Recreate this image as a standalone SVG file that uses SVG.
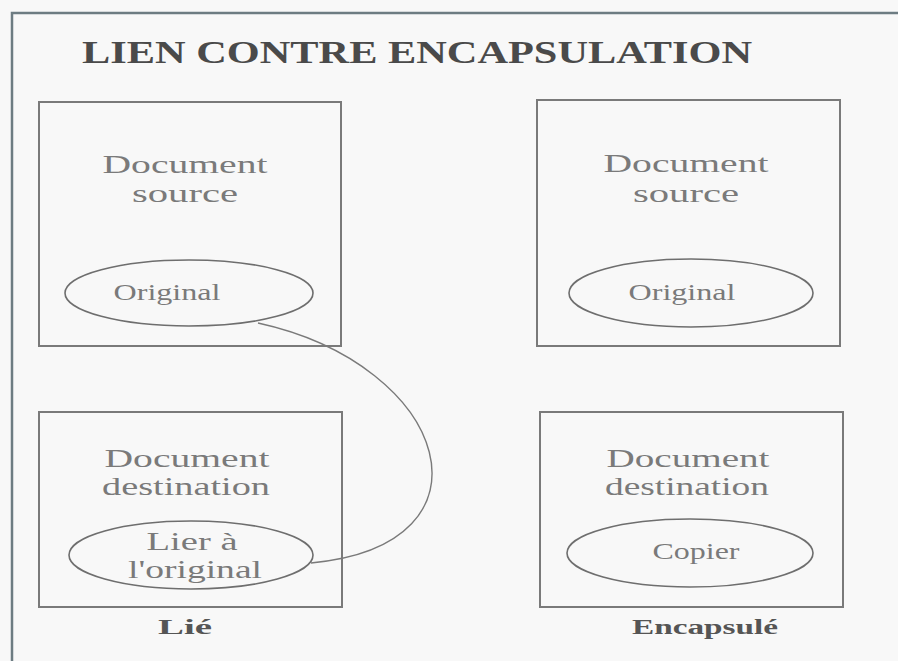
<svg xmlns="http://www.w3.org/2000/svg" width="898" height="661" viewBox="0 0 898 661">
<style>
.box{fill:none;stroke:#7a7a7a;stroke-width:2}
.ell{fill:none;stroke:#6e6e6e;stroke-width:1.6}
.t{font-family:"Liberation Serif","Times New Roman",serif;font-size:25px;fill:#7a7a7a;text-anchor:middle}
.o{font-family:"Liberation Serif","Times New Roman",serif;font-size:23px;fill:#7a7a7a;text-anchor:middle}
.lbl{font-family:"Liberation Serif","Times New Roman",serif;font-size:20px;font-weight:bold;fill:#555;text-anchor:middle}
.title{font-family:"Liberation Serif","Times New Roman",serif;font-size:31px;font-weight:bold;fill:#4a4a4a}
.frame{fill:none;stroke:#6d7c82;stroke-width:2.5}
.link{fill:none;stroke:#7a7a7a;stroke-width:1.4}
</style>
<rect width="898" height="661" fill="#f8f8f8"/>
<path class="frame" d="M12,661 V13 H898"/>
<text class="title" x="82" y="63" textLength="670" lengthAdjust="spacingAndGlyphs">LIEN CONTRE ENCAPSULATION</text>

<g id="source-lie">
<rect class="box" x="39" y="102" width="302" height="244"/>
<text class="t" x="185" y="173" textLength="165" lengthAdjust="spacingAndGlyphs">Document</text>
<text class="t" x="185" y="202" textLength="106" lengthAdjust="spacingAndGlyphs">source</text>
<ellipse class="ell" cx="189" cy="293" rx="124" ry="33"/>
<text class="o" x="167" y="300" textLength="107" lengthAdjust="spacingAndGlyphs">Original</text>
</g>

<g id="source-encapsule">
<rect class="box" x="537" y="100" width="303" height="246"/>
<text class="t" x="686" y="172" textLength="165" lengthAdjust="spacingAndGlyphs">Document</text>
<text class="t" x="686" y="202" textLength="106" lengthAdjust="spacingAndGlyphs">source</text>
<ellipse class="ell" cx="691" cy="293" rx="122" ry="34"/>
<text class="o" x="682" y="300" textLength="107" lengthAdjust="spacingAndGlyphs">Original</text>
</g>

<g id="destination-lie">
<rect class="box" x="39" y="412" width="303" height="195"/>
<text class="t" x="187" y="467" textLength="165" lengthAdjust="spacingAndGlyphs">Document</text>
<text class="t" x="186" y="495" textLength="168" lengthAdjust="spacingAndGlyphs">destination</text>
<ellipse class="ell" cx="191" cy="555" rx="122" ry="34"/>
<text class="t" x="192" y="550" textLength="91" lengthAdjust="spacingAndGlyphs">Lier à</text>
<text class="t" x="195" y="578" textLength="134" lengthAdjust="spacingAndGlyphs">l'original</text>
<text class="lbl" x="185" y="634" textLength="54" lengthAdjust="spacingAndGlyphs">Lié</text>
</g>

<g id="destination-encapsule">
<rect class="box" x="540" y="412" width="303" height="195"/>
<text class="t" x="688" y="467" textLength="163" lengthAdjust="spacingAndGlyphs">Document</text>
<text class="t" x="687" y="495" textLength="164" lengthAdjust="spacingAndGlyphs">destination</text>
<ellipse class="ell" cx="690" cy="553" rx="123" ry="34"/>
<text class="o" x="696" y="559" textLength="87" lengthAdjust="spacingAndGlyphs">Copier</text>
<text class="lbl" x="705" y="634" textLength="146" lengthAdjust="spacingAndGlyphs">Encapsulé</text>
</g>

<g id="connectors">
<path class="link" d="M258,323 C450,365 505,545 311,563"/>
</g>
</svg>
